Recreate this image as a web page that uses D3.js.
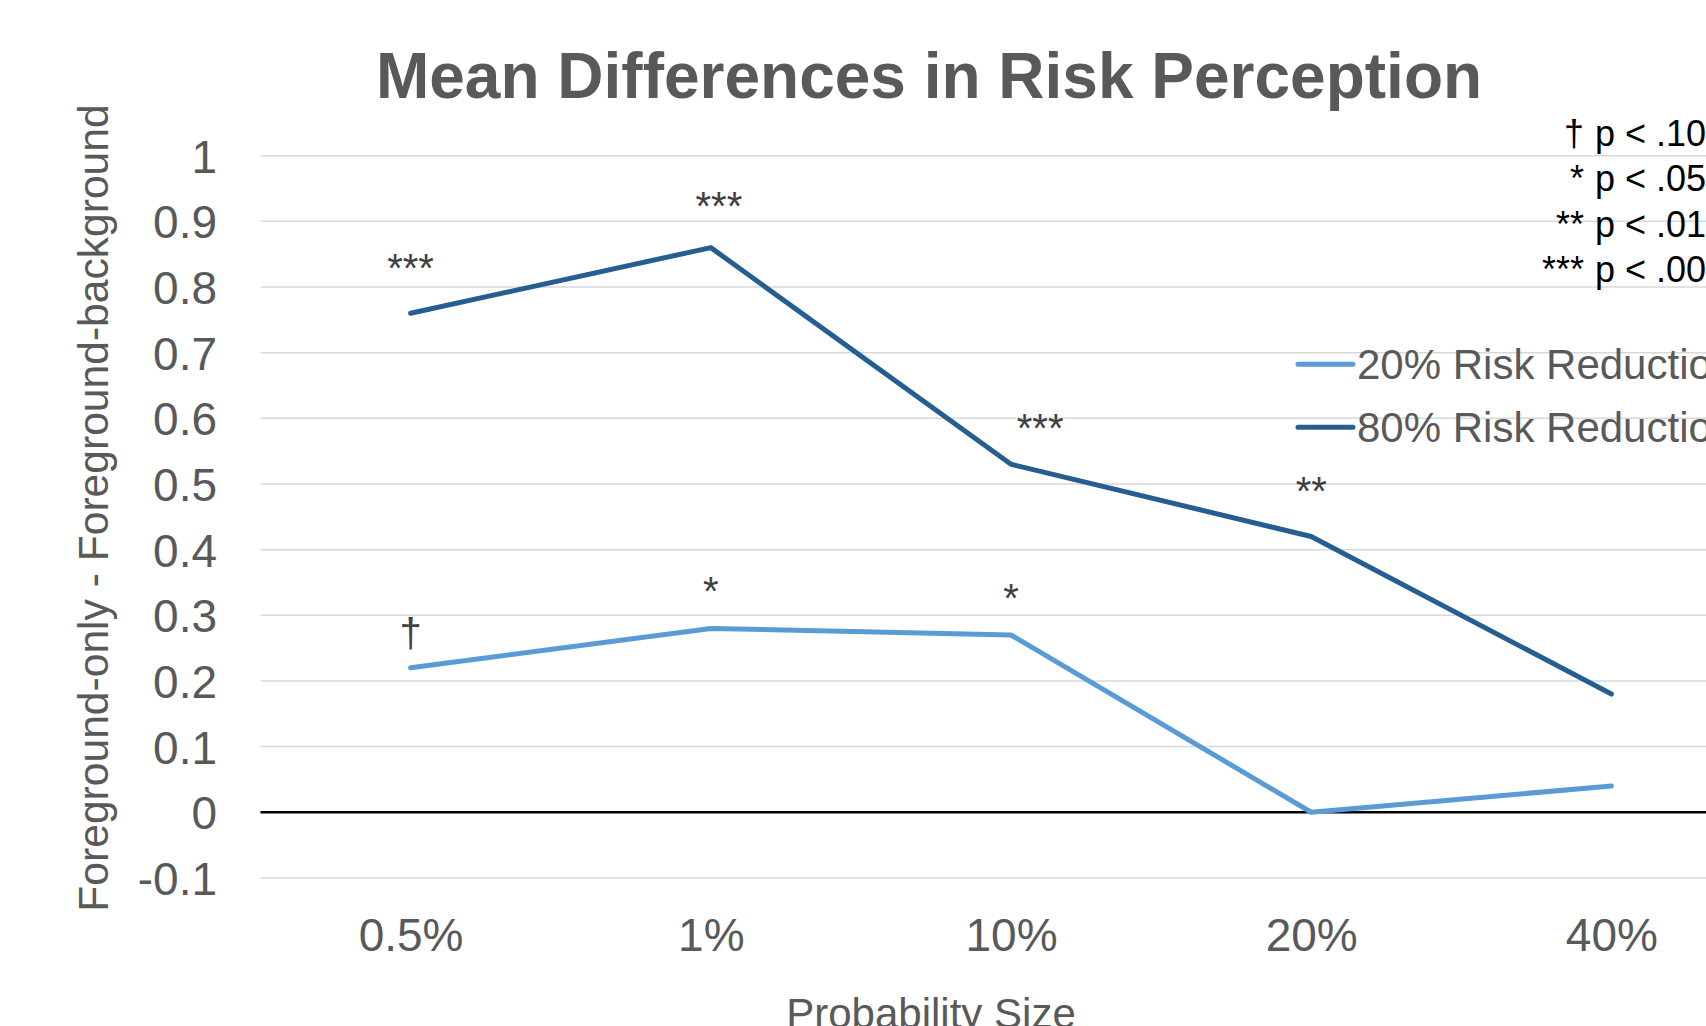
<!DOCTYPE html>
<html>
<head>
<meta charset="utf-8">
<script src="https://cdn.jsdelivr.net/npm/d3@7"></script>
<style>
  html, body { margin: 0; padding: 0; background: #fff; overflow: hidden; }
  svg { display: block; }
  text { font-family: "Liberation Sans", Arial, sans-serif; }
</style>
</head>
<body>
<svg id="chart" width="1706" height="1026"></svg>
<script>
// ---- data ----
const categories = ["0.5%", "1%", "10%", "20%", "40%"];
const seriesNames = ["20% Risk Reduction", "80% Risk Reduction"];
const risk20 = [0.22, 0.28, 0.27, 0.00, 0.04];
const risk80 = [0.76, 0.86, 0.53, 0.42, 0.18];
const yTickValues = [-0.1, 0, 0.1, 0.2, 0.3, 0.4, 0.5, 0.6, 0.7, 0.8, 0.9, 1];
const yTickLabels = ["-0.1", "0", "0.1", "0.2", "0.3", "0.4", "0.5", "0.6", "0.7", "0.8", "0.9", "1"];
// significance marks: category, label anchor (y value units), text, shift in band fraction
const sigCategory = ["0.5%", "1%", "10%", "20%", "0.5%", "1%", "10%"];
const sigAnchor   = [0.807, 0.902, 0.564, 0.468, 0.251, 0.316, 0.305];
const sigText     = ["***", "***", "***", "**", "†", "*", "*"];
const sigShift    = [0, 0.027, 0.097, 0, 0, 0, 0];
const sigKeyMark  = ["†", "*", "**", "***"];
const sigKeyText  = ["p < .10", "p < .05", "p < .01", "p < .001"];

const title = "Mean Differences in Risk Perception";
const xTitle = "Probability Size";
const yTitle = "Foreground-only - Foreground-background";

// ---- layout ----
const svg = d3.select("#chart");
const plotLeft = 260.5, plotRight = 1761.5, plotTop = 155.7, plotBottom = 877.9;
const textGrey = "#595959";
const colors = ["#5B9BD5", "#255E91"];

const x = d3.scalePoint().domain(categories).range([plotLeft, plotRight]).padding(0.5);
const band = x.step();
const y = d3.scaleLinear().domain([-0.1, 1]).range([plotBottom, plotTop]);

// gridlines
svg.append("g")
  .selectAll("line")
  .data(yTickValues.filter(v => v !== 0))
  .join("line")
  .attr("x1", plotLeft).attr("x2", plotRight)
  .attr("y1", d => y(d)).attr("y2", d => y(d))
  .attr("stroke", "#d9d9d9").attr("stroke-width", 1.5);

// y axis labels
const yAxis = d3.axisLeft(y)
  .tickValues(yTickValues)
  .tickFormat((d, i) => yTickLabels[i])
  .tickSize(0).tickPadding(0);
const yg = svg.append("g").attr("transform", `translate(217,0)`).call(yAxis);
yg.select(".domain").remove();
yg.selectAll("text")
  .attr("font-size", 46).attr("fill", textGrey)
  .attr("font-family", "'Liberation Sans', Arial, sans-serif")
  .attr("dy", "0.36em").attr("x", 0);

// zero line
svg.append("line")
  .attr("x1", plotLeft).attr("x2", plotRight)
  .attr("y1", y(0)).attr("y2", y(0))
  .attr("stroke", "#000").attr("stroke-width", 2.5);

// x axis labels
const xAxis = d3.axisBottom(x).tickSize(0).tickPadding(0);
const xg = svg.append("g").attr("transform", `translate(0,${plotBottom})`).call(xAxis);
xg.select(".domain").remove();
xg.selectAll("text")
  .attr("font-size", 46).attr("fill", textGrey)
  .attr("font-family", "'Liberation Sans', Arial, sans-serif")
  .attr("dy", null).attr("y", 73);

// lines
const line = d3.line().x((d, i) => x(categories[i])).y(d => y(d));
[risk20, risk80].forEach((s, k) => {
  svg.append("path")
    .datum(s)
    .attr("d", line)
    .attr("fill", "none")
    .attr("stroke", colors[k])
    .attr("stroke-width", 5)
    .attr("stroke-linecap", "round")
    .attr("stroke-linejoin", "round");
});

// significance marks
svg.append("g")
  .selectAll("text")
  .data(sigText)
  .join("text")
  .attr("x", (d, i) => x(sigCategory[i]) + sigShift[i] * band)
  .attr("y", (d, i) => y(sigAnchor[i]))
  .attr("text-anchor", "middle")
  .attr("font-size", 40)
  .attr("fill", "#404040")
  .text(d => d);

// title
svg.append("text")
  .attr("x", 929).attr("y", 98)
  .attr("text-anchor", "middle")
  .attr("font-size", 64).attr("font-weight", "bold")
  .attr("fill", textGrey)
  .text(title);

// x title
svg.append("text")
  .attr("x", 931).attr("y", 1028)
  .attr("text-anchor", "middle")
  .attr("font-size", 42).attr("fill", textGrey)
  .text(xTitle);

// y title
svg.append("text")
  .attr("transform", "translate(108,508) rotate(-90)")
  .attr("text-anchor", "middle")
  .attr("font-size", 42.6).attr("fill", textGrey)
  .text(yTitle);

// legend
const legend = svg.append("g").attr("transform", "translate(1298,364.3)");
seriesNames.forEach((name, i) => {
  const g = legend.append("g").attr("transform", `translate(0,${i * 63})`);
  g.append("line").attr("x1", 0).attr("x2", 55).attr("y1", 0).attr("y2", 0)
    .attr("stroke", colors[i]).attr("stroke-width", 5).attr("stroke-linecap", "round");
  g.append("text").attr("x", 59).attr("y", 0).attr("dy", "0.36em")
    .attr("font-size", 42).attr("fill", textGrey).text(name);
});

// significance key
const key = svg.append("g").attr("transform", "translate(0,146)");
sigKeyMark.forEach((m, i) => {
  key.append("text").attr("x", 1584).attr("y", i * 45.3)
    .attr("text-anchor", "end").attr("font-size", 36).attr("fill", "#000").text(m);
  key.append("text").attr("x", 1595).attr("y", i * 45.3)
    .attr("font-size", 36).attr("fill", "#000").text(sigKeyText[i]);
});
</script>
</body>
</html>
